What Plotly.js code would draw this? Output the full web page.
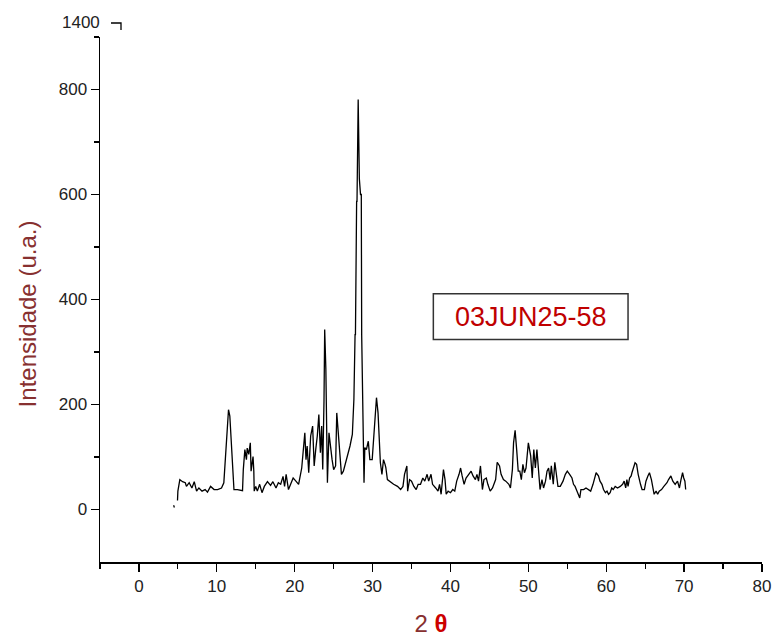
<!DOCTYPE html>
<html>
<head>
<meta charset="utf-8">
<script src="https://cdn.plot.ly/plotly-3.0.1.min.js"></script>
<style>html,body{margin:0;padding:0;background:#fff;}#chart{width:775px;height:641px;}</style>
</head>
<body>
<div id="chart"></div>
<script>
const twoTheta = [4.45,4.55,4.7,4.95,5.0,5.25,5.6,5.95,6.1,6.45,6.8,7.1,7.4,7.7,8.1,8.5,8.8,9.2,9.65,10.1,10.6,10.9,11.07,11.24,11.37,11.5,11.67,11.8,12.0,12.2,12.65,13.3,13.4,13.6,13.8,13.9,14.1,14.3,14.4,14.6,14.65,14.75,14.8,15.0,15.2,15.5,15.8,16.1,16.5,16.9,17.2,17.6,17.9,18.2,18.5,18.7,18.9,19.2,19.5,19.8,20.1,20.5,20.9,21.1,21.3,21.45,21.6,21.8,22.05,22.3,22.5,22.7,22.9,23.1,23.3,23.46,23.6,23.76,23.85,24.0,24.1,24.2,24.4,24.6,24.8,25.0,25.25,25.4,25.6,25.8,26.0,26.25,26.5,26.8,27.1,27.4,27.6,27.75,27.8,27.95,28.0,28.15,28.3,28.45,28.55,28.6,28.8,28.9,29.0,29.2,29.45,29.65,29.95,30.2,30.4,30.5,30.7,30.85,31.0,31.2,31.4,31.6,31.7,31.9,32.3,32.7,33.2,33.6,33.9,34.1,34.4,34.5,34.75,35.0,35.3,35.6,35.85,36.15,36.45,36.7,37.0,37.2,37.5,37.7,38.1,38.4,38.6,38.8,39.1,39.3,39.45,39.7,40.0,40.3,40.55,40.8,41.1,41.3,41.5,41.75,42.0,42.35,42.65,42.9,43.2,43.4,43.6,43.85,44.1,44.3,44.6,44.8,45.1,45.4,45.8,46.0,46.3,46.5,46.8,47.1,47.5,47.7,47.95,48.1,48.3,48.5,48.7,48.9,49.1,49.3,49.5,49.7,50.0,50.3,50.5,50.7,50.9,51.1,51.3,51.5,51.75,51.95,52.2,52.4,52.6,52.8,52.95,53.2,53.4,53.6,53.8,54.1,54.45,54.75,55.0,55.3,55.6,55.8,56.0,56.25,56.45,56.6,56.75,57.1,57.4,57.7,58.0,58.3,58.5,58.7,59.0,59.2,59.45,59.65,59.9,60.1,60.3,60.5,60.7,60.9,61.15,61.45,61.8,62.1,62.3,62.5,62.65,62.8,63.0,63.2,63.3,63.5,63.7,63.9,64.1,64.4,64.6,64.9,65.1,65.35,65.55,65.8,66.0,66.15,66.4,66.6,66.8,67.1,67.4,67.8,68.0,68.3,68.55,68.85,69.15,69.4,69.6,69.8,69.95,70.1,70.2];
const intensity = [8,4,null,17,35,57,53,51,44,51,41,53,35,41,35,38,33,44,38,38,41,51,89,137,175,190,178,137,92,38,38,36,76,114,95,117,105,127,73,92,101,73,35,44,35,48,32,44,53,46,53,41,51,48,63,44,67,38,48,60,55,48,79,117,146,95,121,70,140,159,83,114,140,181,108,159,76,206,343,267,121,51,146,114,95,76,83,184,146,95,67,73,86,102,121,143,210,333,333,587,587,781,630,600,600,333,121,51,118,114,130,95,95,146,200,213,184,143,89,67,95,86,80,57,52,48,44,38,44,67,83,35,57,54,44,38,48,48,60,54,67,54,67,48,41,35,48,29,76,57,29,35,32,38,35,54,67,79,64,48,60,67,73,64,57,67,54,83,38,57,60,48,35,41,57,90,83,67,57,54,48,41,76,127,151,114,73,73,57,86,70,79,127,102,60,114,79,114,64,38,57,41,54,73,79,57,83,48,90,64,44,44,54,67,73,67,60,48,44,35,29,22,38,38,41,38,35,48,60,70,64,54,48,38,32,35,29,32,41,38,44,41,44,48,54,41,57,44,60,64,70,79,89,86,67,48,38,38,54,64,70,57,41,29,35,29,35,38,44,51,57,64,54,48,54,41,57,70,60,54,38];
const xTickVals = [0,10,20,30,40,50,60,70,80];
const yTickVals = [0,200,400,600,800];
const sampleLabel = '03JUN25-58';
const breakLabel = '1400';
const xTitle = '2 <b><span style="color:#cc0000">θ</span></b>';
const yTitle = 'Intensidade (u.a.)';

const tickFont = {family:'Liberation Sans, Arial, sans-serif', size:17, color:'#222'};
const titleColor = '#873030';

const trace = {
  x: twoTheta, y: intensity, type:'scatter', mode:'lines',
  line:{color:'#000', width:1.3}, connectgaps:false, hoverinfo:'skip'
};

const layout = {
  width:775, height:641,
  margin:{l:100, r:13, t:37, b:79, pad:0},
  paper_bgcolor:'#fff', plot_bgcolor:'#fff',
  showlegend:false,
  xaxis:{
    range:[-5,80], tickvals:xTickVals, ticktext:xTickVals.map(String),
    showgrid:false, zeroline:false, showline:true, linecolor:'#000', linewidth:1.5,
    ticks:'outside', ticklen:8, tickwidth:1.3, tickcolor:'#000',
    minor:{tickvals:[-5,5,15,25,35,45,55,65,75], ticks:'outside', ticklen:5, tickwidth:1.2, tickcolor:'#000'},
    tickfont:tickFont,
    title:{text:xTitle, font:{family:'Liberation Sans, Arial, sans-serif', size:24, color:titleColor}, standoff:20}
  },
  yaxis:{
    range:[-100,900], tickvals:yTickVals, ticktext:yTickVals.map(String),
    showgrid:false, zeroline:false, showline:true, linecolor:'#000', linewidth:1.5,
    ticks:'outside', ticklen:8, tickwidth:1.3, tickcolor:'#000',
    minor:{tickvals:[100,300,500,700,900], ticks:'outside', ticklen:5, tickwidth:1.2, tickcolor:'#000'},
    tickfont:tickFont
  },
  shapes:[
    {type:'rect', xref:'x', yref:'y', x0:37.8, x1:62.8, y0:324, y1:411, line:{color:'#333', width:1.5}, fillcolor:'rgba(0,0,0,0)'},
    {type:'path', xref:'paper', yref:'paper', xsizemode:'pixel', ysizemode:'pixel', xanchor:0, yanchor:1,
     path:'M 11 14 L 21 14 L 21 7', line:{color:'#000', width:1.3}}
  ],
  annotations:[
    {text:sampleLabel, xref:'x', yref:'y', x:50.3, y:367, showarrow:false,
     font:{family:'Liberation Sans, Arial, sans-serif', size:27, color:'#c00000'}},
    {text:breakLabel, xref:'paper', yref:'paper', x:0, y:1, xanchor:'right', yanchor:'middle', xshift:2, yshift:15,
     showarrow:false, font:tickFont},
    {text:yTitle, xref:'paper', yref:'paper', x:-0.110, y:0.472, textangle:-90, xanchor:'center', yanchor:'middle',
     showarrow:false, font:{family:'Liberation Sans, Arial, sans-serif', size:24, color:titleColor}}
  ]
};

Plotly.newPlot('chart', [trace], layout, {staticPlot:true, displayModeBar:false});
</script>
</body>
</html>
